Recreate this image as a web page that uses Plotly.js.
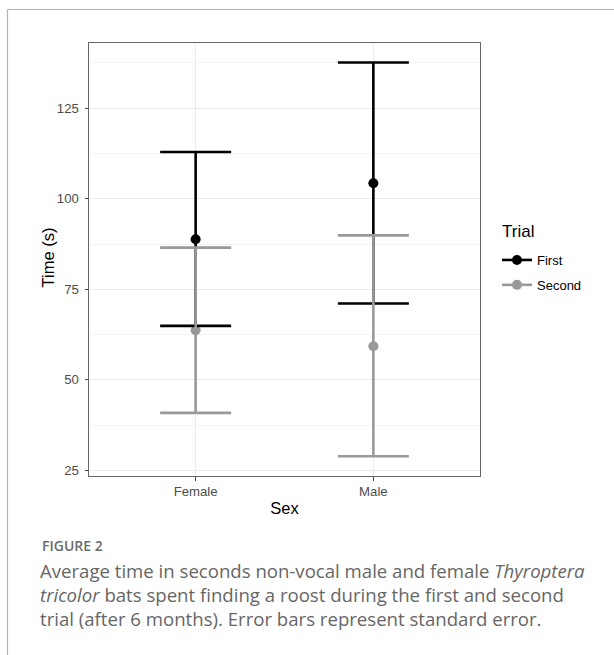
<!DOCTYPE html>
<html><head><meta charset="utf-8">
<script src="https://cdn.plot.ly/plotly-3.0.1.min.js"></script>
<style>html,body{margin:0;padding:0;background:#fff}#chart{width:614px;height:655px}</style>
</head><body><div id="chart"></div>
<script>
// ---- data ----
const sexes = ['Female', 'Male'];
const trials = ['First', 'Second'];
const firstMean = [88.8, 104.3];
const firstUpper = [112.9, 137.6];
const firstLower = [64.9, 71.1];
const secondMean = [63.7, 59.3];
const secondUpper = [86.5, 89.9];
const secondLower = [40.9, 28.9];
const yTickVals = [25, 50, 75, 100, 125];
const yTickText = ['25', '50', '75', '100', '125'];
const xTitle = 'Sex';
const yTitle = 'Time (s)';
const legendTitle = 'Trial';
const figureLabel = 'FIGURE 2';
const captionLines = [
  'Average time in seconds non-vocal male and female <i>Thyroptera</i>',
  '<i>tricolor</i> bats spent finding a roost during the first and second',
  'trial (after 6 months). Error bars represent standard error.'
];

// ---- styling / layout ----
const W = 614, H = 655;
const L = 89, T = 43, PW = 391, PH = 433;
const xp = px => (px - L) / PW;
const yp = py => (T + PH - py) / PH;
const colors = ['#000000', '#999999'];
const means = [firstMean, secondMean];
const uppers = [firstUpper, secondUpper];
const lowers = [firstLower, secondLower];

const traces = [];
// points first (drawn under the error bars, as in the reference)
trials.forEach((t, i) => {
  traces.push({
    type: 'scatter', mode: 'markers', x: sexes, y: means[i],
    marker: {size: 10, color: colors[i]}, showlegend: false, hoverinfo: 'skip'
  });
});
trials.forEach((t, i) => {
  traces.push({
    type: 'scatter', mode: 'markers', x: sexes, y: means[i],
    marker: {size: 10, color: 'rgba(0,0,0,0)'}, showlegend: false, hoverinfo: 'skip',
    error_y: {
      type: 'data', symmetric: false,
      array: uppers[i].map((u, k) => u - means[i][k]),
      arrayminus: lowers[i].map((l, k) => means[i][k] - l),
      color: colors[i], thickness: 2.6, width: 35.5
    }
  });
});
// legend entries
trials.forEach((t, i) => {
  traces.push({
    type: 'scatter', mode: 'lines+markers', x: [null], y: [null], name: t,
    legendgroup: t,
    line: {color: colors[i], width: 2.6}, marker: {size: 10, color: colors[i]}
  });
});

const sans = 'Liberation Sans, Arial, sans-serif';
const tickFont = {family: sans, size: 13.2, color: '#4d4d4d'};
const titleFont = {family: sans, size: 16.5, color: '#000'};

const annotations = [
  {text: yTitle, x: xp(47.5), y: yp(258), xref: 'paper', yref: 'paper', xanchor: 'center', yanchor: 'middle',
   textangle: -90, showarrow: false, font: titleFont},
  {text: legendTitle, x: xp(500), y: yp(231), xref: 'paper', yref: 'paper', xanchor: 'left', yanchor: 'middle',
   showarrow: false, font: {family: sans, size: 17, color: '#000'}},
  {text: figureLabel, x: xp(40), y: yp(545), xref: 'paper', yref: 'paper', xanchor: 'left', yanchor: 'middle',
   showarrow: false, font: {family: 'Open Sans, sans-serif', size: 14, color: '#6b6b6b', weight: 600}}
];
const lineY = [570, 594, 618];
captionLines.forEach((s, i) => {
  annotations.push({text: s, x: xp(38), y: yp(lineY[i]), xref: 'paper', yref: 'paper', xanchor: 'left', yanchor: 'middle',
    showarrow: false, align: 'left', font: {family: 'Open Sans, sans-serif', size: 18.6, color: '#666666'}});
});

const layout = {
  width: W, height: H,
  margin: {l: L, r: W - L - PW, t: T, b: H - T - PH},
  paper_bgcolor: '#fff', plot_bgcolor: '#fff',
  showlegend: true,
  legend: {
    x: xp(497), y: yp(245), xanchor: 'left', yanchor: 'top',
    font: {family: sans, size: 13, color: '#000'},
    tracegroupgap: 5, itemwidth: 30, bgcolor: 'rgba(0,0,0,0)'
  },
  xaxis: {
    type: 'category', categoryorder: 'array', categoryarray: sexes, range: [-0.6, 1.6],
    showgrid: true, gridcolor: '#ebebeb', gridwidth: 1.1, zeroline: false,
    showline: true, mirror: true, linecolor: '#666', linewidth: 1,
    ticks: 'outside', ticklen: 3.5, tickwidth: 1, tickcolor: '#444',
    tickfont: tickFont,
    title: {text: xTitle, font: titleFont, standoff: 4}
  },
  yaxis: {
    range: [23.46, 143.0], tickmode: 'array', tickvals: yTickVals, ticktext: yTickText,
    showgrid: true, gridcolor: '#ebebeb', gridwidth: 1.1, zeroline: false,
    minor: {tickmode: 'linear', tick0: 12.5, dtick: 25, showgrid: true, gridcolor: '#f0f0f0', gridwidth: 0.7, ticks: ''},
    showline: true, mirror: true, linecolor: '#666', linewidth: 1,
    ticks: 'outside', ticklen: 3.5, tickwidth: 1, tickcolor: '#444',
    ticklabelstandoff: 3,
    tickfont: tickFont
  },
  shapes: [
    {type: 'line', xref: 'paper', yref: 'paper', x0: xp(7.5), x1: xp(7.5), y0: yp(670), y1: yp(9.5),
     line: {color: '#b3b3b3', width: 1.2}},
    {type: 'line', xref: 'paper', yref: 'paper', x0: xp(7.5), x1: xp(630), y0: yp(9.5), y1: yp(9.5),
     line: {color: '#b3b3b3', width: 1.2}}
  ],
  annotations: annotations
};

Plotly.newPlot('chart', traces, layout, {displayModeBar: false, staticPlot: true});
</script>
</body></html>
